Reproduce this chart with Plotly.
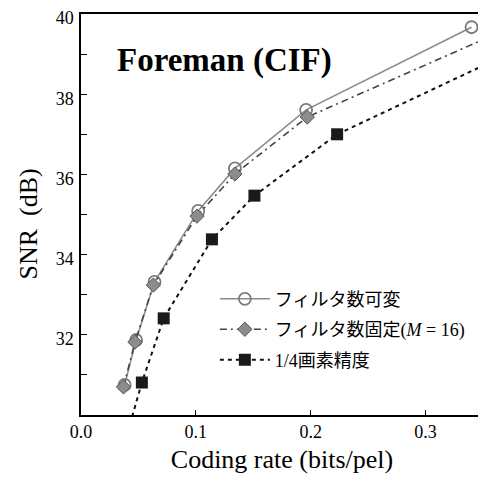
import plotly.graph_objects as go

# Data
rate_var = [0.038, 0.048, 0.064, 0.102, 0.134, 0.196, 0.340]
snr_var = [30.75, 31.87, 33.32, 35.09, 36.15, 37.61, 39.67]

rate_fix = [0.037, 0.047, 0.063, 0.101, 0.134, 0.197, 0.365]
snr_fix = [30.70, 31.82, 33.24, 34.96, 36.01, 37.43, 39.55]

rate_qp = [0.035, 0.053, 0.072, 0.114, 0.151, 0.223, 0.370]
snr_qp = [29.0, 30.81, 32.41, 34.38, 35.47, 37.00, 38.98]

names = ["フィルタ数可変", "フィルタ数固定(<i>M</i> = 16)", "1/4画素精度"]
x_ticks = [0.0, 0.1, 0.2, 0.3]
x_tick_labels = ["0.0", "0.1", "0.2", "0.3"]
y_ticks = [32, 34, 36, 38, 40]

SERIF = "Liberation Serif, Times New Roman, serif"
LEG_FONT = "Liberation Serif, Noto Sans CJK JP"

fig = go.Figure()
fig.add_trace(go.Scatter(
    x=rate_var, y=snr_var, name=names[0], mode="lines+markers", legendgroup="a",
    line=dict(color="#8a8a8a", width=1.5),
    marker=dict(symbol="circle-open", size=12, color="#7a7a7a", line=dict(width=1.8, color="#7a7a7a")),
))
fig.add_trace(go.Scatter(
    x=rate_fix, y=snr_fix, name=names[1], mode="lines+markers", legendgroup="b",
    line=dict(color="#444444", width=1.6, dash="7px,4px,2px,4px"),
    marker=dict(symbol="diamond", size=11, color="#8c8c8c", line=dict(width=1, color="#555555")),
))
fig.add_trace(go.Scatter(
    x=rate_qp, y=snr_qp, name=names[2], mode="lines+markers", legendgroup="c",
    line=dict(color="#111111", width=2, dash="4px,4px"),
    marker=dict(symbol="square", size=12, color="#1a1a1a", line=dict(width=0)),
))

fig.add_annotation(
    x=0.356, y=0.885, xref="paper", yref="paper", text="<b>Foreman (CIF)</b>",
    xanchor="center", yanchor="middle",
    showarrow=False, font=dict(family=SERIF, size=33, color="black"),
)
fig.add_annotation(
    x=-0.131, y=0.476, xref="paper", yref="paper", text="SNR  (dB)",
    xanchor="center", yanchor="middle", textangle=-90,
    showarrow=False, font=dict(family=SERIF, size=26, color="black"),
)

fig.update_layout(
    width=478, height=473,
    margin=dict(l=73, r=3, t=6, b=66, autoexpand=False),
    paper_bgcolor="white", plot_bgcolor="white",
    showlegend=True,
    legend=dict(
        x=0.333, y=0.335, xanchor="left", yanchor="top",
        font=dict(family=LEG_FONT, size=18, color="black"),
        bgcolor="rgba(0,0,0,0)", tracegroupgap=4, itemwidth=50,
        traceorder="grouped",
    ),
    font=dict(family=SERIF, color="black"),
)
fig.update_xaxes(
    range=[0, 0.35], tickvals=x_ticks, ticktext=x_tick_labels,
    showline=True, linecolor="black", linewidth=1.5, mirror=True,
    ticks="inside", ticklen=5, tickcolor="black",
    showgrid=False, zeroline=False, automargin=False,
    tickfont=dict(family=SERIF, size=18),
    title=dict(text="Coding rate (bits/pel)", font=dict(family=SERIF, size=26), standoff=8),
)
fig.update_yaxes(
    range=[30, 40], tickvals=y_ticks,
    showline=True, linecolor="black", linewidth=1.5, mirror=True,
    ticks="inside", ticklen=6, tickcolor="black",
    minor=dict(tickvals=[31, 33, 35, 37, 39], ticks="inside", ticklen=6, tickcolor="black"),
    showgrid=False, zeroline=False, automargin=False,
    tickfont=dict(family=SERIF, size=18),
    ticklabeloverflow="allow", ticklabelstandoff=2, ticklabelshift=4,
)

fig.write_html("out.html")
